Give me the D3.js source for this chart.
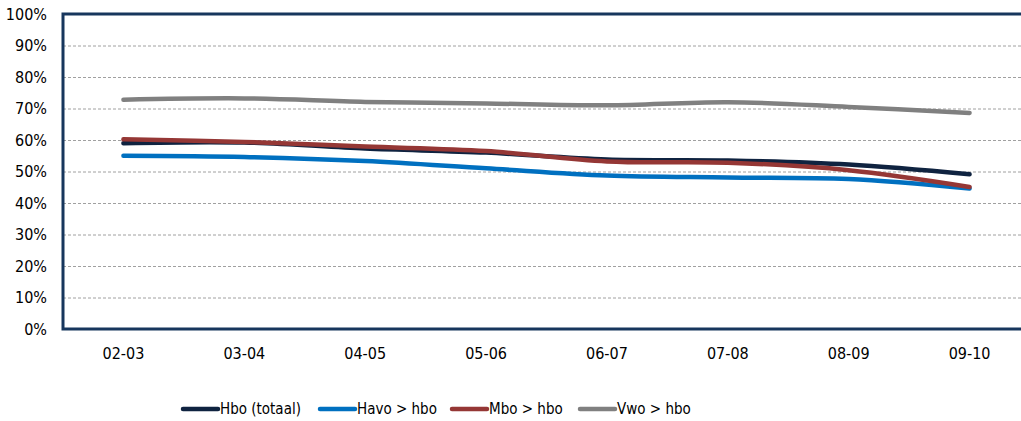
<!DOCTYPE html>
<html><head><meta charset="utf-8">
<script src="https://cdnjs.cloudflare.com/ajax/libs/d3/7.8.5/d3.min.js"></script>
<style>
html,body{margin:0;padding:0;background:#fff;overflow:hidden;}
svg{display:block;}
text{font-family:"DejaVu Sans Condensed","DejaVu Sans",sans-serif;fill:#000;}
</style></head>
<body>
<script>
const categories = ["02-03","03-04","04-05","05-06","06-07","07-08","08-09","09-10"];
const hbo  = [59.0, 59.2, 57.3, 56.0, 53.8, 53.5, 52.2, 49.1];
const havo = [55.0, 54.6, 53.3, 51.0, 48.7, 48.1, 47.6, 44.6];
const mbo  = [60.2, 59.4, 57.9, 56.5, 53.2, 52.8, 50.4, 45.1];
const vwo  = [72.8, 73.2, 72.1, 71.6, 71.0, 72.0, 70.5, 68.6];
const seriesNames = ["Hbo (totaal)","Havo > hbo","Mbo > hbo","Vwo > hbo"];
const seriesColors = ["#0f2340","#0070c0","#953735","#808080"];
const yTicks = [0,10,20,30,40,50,60,70,80,90,100];

const series = [hbo, havo, mbo, vwo].map((v,i)=>({name:seriesNames[i], color:seriesColors[i], values:v}));

const W = 1021, H = 421;
const svg = d3.select("body").append("svg").attr("width", W).attr("height", H);

const mLeft = 63, mRight = 1030, mTop = 14, mBottom = 329;
const x = d3.scaleBand().domain(categories).range([mLeft, mRight]).padding(0);
const y = d3.scaleLinear().domain([0,100]).range([mBottom, mTop]);
const FONT = '"DejaVu Sans Condensed","DejaVu Sans",sans-serif';

// gridlines
svg.append("g").selectAll("line").data(yTicks.filter(t=>t>0 && t<100)).join("line")
  .attr("x1", mLeft).attr("x2", W).attr("y1", d=>y(d)+0.5).attr("y2", d=>y(d)+0.5)
  .attr("stroke","#a0a0a0").attr("stroke-width",1).attr("stroke-dasharray","3,2");

// y axis labels
const yAxis = d3.axisLeft(y).tickValues(yTicks).tickFormat(d=>d+"%").tickSize(0).tickPadding(16);
const gy = svg.append("g").attr("transform",`translate(${mLeft},0)`).call(yAxis);
gy.select(".domain").remove();
gy.selectAll("text").attr("font-size",16).style("font-family",FONT).attr("fill","#000");

// x axis labels
const xAxis = d3.axisBottom(x).tickSize(0).tickPadding(19);
const gx = svg.append("g").attr("transform",`translate(0,${mBottom})`).call(xAxis);
gx.select(".domain").remove();
gx.selectAll("text").attr("font-size",16).style("font-family",FONT).attr("fill","#000");

// lines
const line = d3.line()
  .x((d,i)=>x(categories[i]) + x.bandwidth()/2)
  .y(d=>y(d))
  .curve(d3.curveCatmullRom.alpha(0.5));
svg.append("g").selectAll("path").data(series).join("path")
  .attr("d", d=>line(d.values))
  .attr("fill","none").attr("stroke",d=>d.color).attr("stroke-width",4.5)
  .attr("stroke-linecap","round").attr("stroke-linejoin","round");

// frame
const frameColor = "#17365d";
svg.append("path")
  .attr("d",`M${W+5},${mTop} H${mLeft} V${mBottom} H${W+5}`)
  .attr("fill","none").attr("stroke",frameColor).attr("stroke-width",3);

// legend
const legendX = [181, 318, 450, 578];
const lg = svg.append("g").attr("transform","translate(0,409)");
const items = lg.selectAll("g").data(series).join("g").attr("transform",(d,i)=>`translate(${legendX[i]},0)`);
items.append("line").attr("x1",2).attr("x2",37).attr("y1",0).attr("y2",0)
  .attr("stroke",d=>d.color).attr("stroke-width",4.5).attr("stroke-linecap","round");
items.append("text").attr("x",39).attr("y",0).attr("dy","0.36em").attr("font-size",15).style("font-family",FONT).text(d=>d.name);
</script>
</body></html>
